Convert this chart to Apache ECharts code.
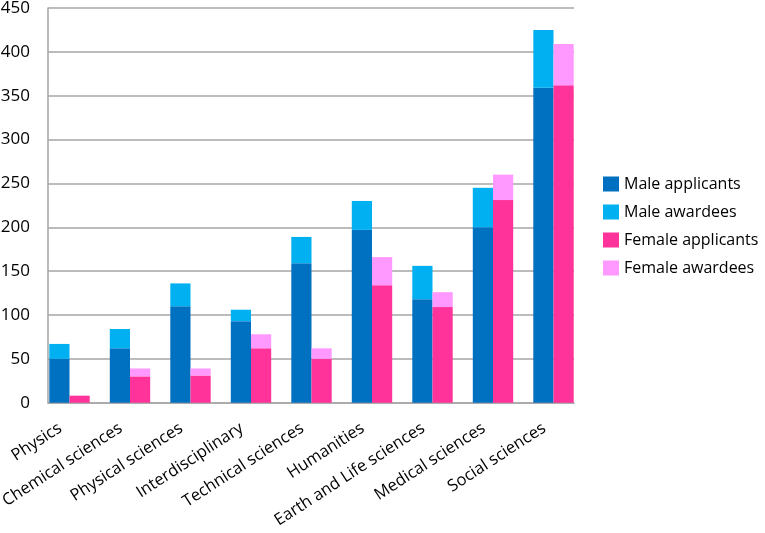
<!DOCTYPE html>
<html>
<head>
<meta charset="utf-8">
<script src="https://cdn.jsdelivr.net/npm/echarts@6/dist/echarts.min.js"></script>
<style>html,body{margin:0;padding:0;background:#fff}#c{width:765px;height:533px}</style>
</head>
<body>
<div id="c"></div>
<script>
const categories = ["Physics","Chemical sciences","Physical sciences","Interdisciplinary","Technical sciences","Humanities","Earth and Life sciences","Medical sciences","Social sciences"];
const maleApplicants = [50,62,110,93,159,197,118,200,359];
const maleAwardees = [17,22,26,13,30,33,38,45,66];
const femaleApplicants = [8,30,31,62,50,134,109,231,362];
const femaleAwardees = [0,9,8,16,12,32,17,29,47];
const yTicks = {min:0, max:450, interval:50};

const FONT = "Open Sans";
const chart = echarts.init(document.getElementById('c'), null, {renderer:'canvas'});
const gridTop = 8, gridH = 394.7;
chart.setOption({
  animation:false,
  textStyle:{fontFamily:FONT},
  grid:[
    {left:39.25, width:544.5, top:gridTop, height:gridH, containLabel:false, outerBoundsMode:'none'},
    {left:48, width:526, top:gridTop, height:gridH, containLabel:false, outerBoundsMode:'none'}
  ],
  legend:{
    orient:'vertical', left:598, top:171, itemWidth:16, itemHeight:15, itemGap:12, icon:'rect',
    textStyle:{fontFamily:FONT, fontSize:16, color:'#000'},
    data:['Male applicants','Male awardees','Female applicants','Female awardees']
  },
  xAxis:[
    {type:'category', gridIndex:0, data:categories, axisLine:{show:false}, axisTick:{show:false},
     axisLabel:{rotate:33, interval:0, fontFamily:FONT, fontSize:16.5, color:'#000', margin:18, padding:[0,11,0,0]}},
    {type:'category', gridIndex:1, data:categories, axisLine:{show:true, lineStyle:{color:'#a6a6a6', width:1.5}},
     axisTick:{show:false}, axisLabel:{show:false}}
  ],
  yAxis:[
    {type:'value', gridIndex:0, min:yTicks.min, max:yTicks.max, interval:yTicks.interval, show:false},
    {type:'value', gridIndex:1, min:yTicks.min, max:yTicks.max, interval:yTicks.interval,
     axisLine:{show:true, lineStyle:{color:'#a6a6a6', width:1.5}}, axisTick:{show:false},
     splitLine:{lineStyle:{color:'#a6a6a6', width:1.5}},
     axisLabel:{fontFamily:FONT, fontSize:17, color:'#000', margin:18}}
  ],
  series:[
    {name:'Male applicants', type:'bar', stack:'male', xAxisIndex:0, yAxisIndex:0, data:maleApplicants, barWidth:20.2, barGap:'0%', itemStyle:{color:'#0070c0'}},
    {name:'Male awardees', type:'bar', stack:'male', xAxisIndex:0, yAxisIndex:0, data:maleAwardees, barWidth:20.2, barGap:'0%', itemStyle:{color:'#00b0f0'}},
    {name:'Female applicants', type:'bar', stack:'female', xAxisIndex:0, yAxisIndex:0, data:femaleApplicants, barWidth:20.2, barGap:'0%', itemStyle:{color:'#ff3399'}},
    {name:'Female awardees', type:'bar', stack:'female', xAxisIndex:0, yAxisIndex:0, data:femaleAwardees, barWidth:20.2, barGap:'0%', itemStyle:{color:'#ff99ff'}}
  ]
});
</script>
</body>
</html>
